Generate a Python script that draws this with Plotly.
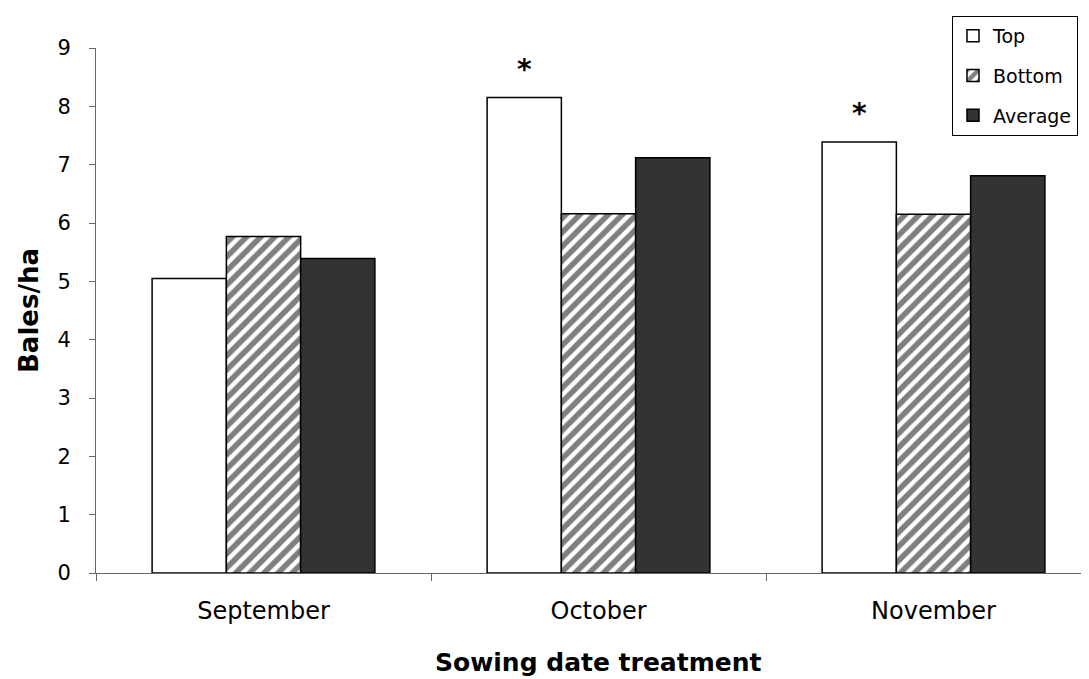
import plotly.graph_objects as go

categories = ["September", "October", "November"]
top_vals = [5.05, 8.15, 7.39]
bottom_vals = [5.77, 6.16, 6.15]
average_vals = [5.39, 7.12, 6.81]
significant = [False, True, True]
y_ticks = list(range(0, 10))

FONT = "DejaVu Sans, Liberation Sans, Arial, sans-serif"
line = dict(color="black", width=1.5)

# the page body has an 8px default margin; figure is sized/offset to compensate
PLOT_L, PLOT_T, PLOT_W, PLOT_H = 96, 48, 993, 525

fig = go.Figure()
fig.add_trace(go.Bar(name="Top", x=categories, y=top_vals, legendgroup="a",
                     marker=dict(color="white", line=line)))
fig.add_trace(go.Bar(name="Bottom", x=categories, y=bottom_vals, legendgroup="b",
                     marker=dict(color="white", line=line,
                                 pattern=dict(shape="/", fgcolor="black", bgcolor="white",
                                              size=10, solidity=0.55))))
fig.add_trace(go.Bar(name="Average", x=categories, y=average_vals, legendgroup="c",
                     marker=dict(color="#333333", line=line)))

for c, v, s in zip(categories, top_vals, significant):
    if s:
        fig.add_annotation(x=c, y=v, xref="x", yref="y", text="<b>*</b>", showarrow=False,
                           xshift=-74, yshift=28, font=dict(family=FONT, size=28, color="black"))

fig.add_annotation(text="<b>Sowing date treatment</b>", xref="paper", yref="paper",
                   x=(598 - PLOT_L) / PLOT_W, y=-(662 - 573) / PLOT_H,
                   xanchor="center", yanchor="middle",
                   showarrow=False, font=dict(family=FONT, size=25, color="black"))

fig.update_layout(
    width=1081, height=671,
    margin=dict(l=88, r=0, t=40, b=106),
    paper_bgcolor="white", plot_bgcolor="white",
    font=dict(family=FONT, size=19, color="black"),
    barmode="group", bargap=0.335, bargroupgap=0,
    showlegend=True,
    legend=dict(x=(952 - PLOT_L) / PLOT_W, y=1 + 32 / PLOT_H, xanchor="left", yanchor="top",
                bordercolor="black", borderwidth=1, bgcolor="white",
                font=dict(family=FONT, size=19, color="black"),
                tracegroupgap=12, itemwidth=30),
    xaxis=dict(range=[-0.5, -0.5 + PLOT_W / 335], showline=True, linecolor="#666666",
               linewidth=1, ticks="outside", tickson="boundaries", ticklen=7,
               tickcolor="#666666", showgrid=False, ticklabelstandoff=16,
               tickfont=dict(family=FONT, size=24, color="black")),
    yaxis=dict(range=[0, 9], tickvals=y_ticks, showline=True, linecolor="#666666",
               linewidth=1, ticks="outside", ticklen=6, tickcolor="#666666",
               showgrid=False, zeroline=False, ticklabelstandoff=14,
               tickfont=dict(family=FONT, size=21, color="black"),
               title=dict(text="<b>Bales/ha</b>", standoff=11,
                          font=dict(family=FONT, size=26, color="black"))),
)

fig.write_html("out.html")
